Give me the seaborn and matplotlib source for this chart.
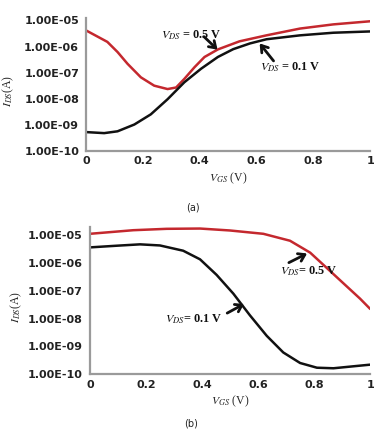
import matplotlib
matplotlib.use("Agg")
import matplotlib.pyplot as plt
import pandas as pd
import numpy as np
import seaborn as sns

# panel (a): I_DS vs V_GS, log10 values
vgs_a = [0, 0.075, 0.111, 0.146, 0.193, 0.24, 0.287, 0.317, 0.346, 0.382, 0.417, 0.464, 0.54, 0.635, 0.753, 0.87, 1.0]
log_red_a = [-5.38, -5.82, -6.21, -6.66, -7.18, -7.5, -7.63, -7.57, -7.24, -6.79, -6.4, -6.11, -5.8, -5.57, -5.31, -5.15, -5.03]
vgs_a_blk = [0, 0.064, 0.111, 0.17, 0.228, 0.287, 0.346, 0.405, 0.464, 0.518, 0.577, 0.635, 0.753, 0.87, 1.0]
log_blk_a = [-9.28, -9.32, -9.25, -8.99, -8.6, -8.02, -7.37, -6.85, -6.4, -6.1, -5.88, -5.72, -5.57, -5.47, -5.42]

# panel (b)
vgs_b = [0, 0.155, 0.274, 0.393, 0.5, 0.619, 0.714, 0.786, 0.845, 0.905, 0.964, 1.0]
log_red_b = [-4.94, -4.81, -4.76, -4.75, -4.82, -4.94, -5.19, -5.62, -6.17, -6.73, -7.28, -7.65]
vgs_b_blk = [0, 0.095, 0.179, 0.25, 0.333, 0.393, 0.452, 0.512, 0.571, 0.631, 0.69, 0.75, 0.81, 0.869, 0.929, 1.0]
log_blk_b = [-5.43, -5.37, -5.32, -5.36, -5.55, -5.86, -6.42, -7.1, -7.88, -8.62, -9.22, -9.6, -9.77, -9.79, -9.73, -9.66]

yticks = [1e-5, 1e-6, 1e-7, 1e-8, 1e-9, 1e-10]
ytick_labels = ["1.00E-05", "1.00E-06", "1.00E-07", "1.00E-08", "1.00E-09", "1.00E-10"]
xticks = [0, 0.2, 0.4, 0.6, 0.8, 1]
xtick_labels = ["0", "0.2", "0.4", "0.6", "0.8", "1"]

sns.set_style("white")
plt.rcParams['mathtext.fontset'] = 'stix'
plt.rcParams['font.family'] = ['DejaVu Sans']

RED = "#c4282e"
BLK = "#111111"

fig = plt.figure(figsize=(3.84, 4.36), dpi=100)
ax_a = fig.add_axes([0.224, 0.654, 0.740, 0.305])
ax_b = fig.add_axes([0.234, 0.142, 0.730, 0.337])


def style_axis(ax, ytop, ylab_x, ylab_y):
    ax.set_yscale("log")
    ax.set_xlim(0, 1)
    ax.set_ylim(1e-10, ytop)
    ax.set_yticks(yticks)
    ax.set_yticklabels(ytick_labels)
    ax.minorticks_off()
    ax.set_xticks(xticks)
    ax.set_xticklabels(xtick_labels)
    ax.tick_params(length=0, labelsize=8)
    ax.tick_params(axis="y", pad=5)
    ax.tick_params(axis="x", pad=4)
    for lab in ax.get_xticklabels() + ax.get_yticklabels():
        lab.set_fontweight("bold")
        lab.set_color("#222222")
    for s in ["top", "right"]:
        ax.spines[s].set_visible(False)
    for s in ["left", "bottom"]:
        ax.spines[s].set_color("#9a9a9a")
        ax.spines[s].set_linewidth(1.6)
    ax.set_xlabel(r"$V_{GS}$" + " (V)", family="Liberation Serif", fontsize=8.5, labelpad=3)
    ax.set_ylabel(r"$I_{DS}$" + "(A)", family="Liberation Serif", fontsize=8.5)
    ax.yaxis.set_label_coords(ylab_x, ylab_y)


def annotate(ax, text, head, tail, txt):
    ax.annotate("", xy=(head[0], 10 ** head[1]), xytext=(tail[0], 10 ** tail[1]),
                arrowprops=dict(arrowstyle="->,head_length=0.45,head_width=0.3",
                                color=BLK, lw=2.0, shrinkA=0, shrinkB=0))
    ax.text(txt[0], 10 ** txt[1], text, ha="center", va="center",
            family="Liberation Serif", fontsize=8.8, fontweight="bold", color=BLK)


df_a_red = pd.DataFrame({"vgs": vgs_a, "ids": np.power(10.0, log_red_a)})
df_a_blk = pd.DataFrame({"vgs": vgs_a_blk, "ids": np.power(10.0, log_blk_a)})
sns.lineplot(data=df_a_red, x="vgs", y="ids", color=RED, lw=1.8, ax=ax_a)
sns.lineplot(data=df_a_blk, x="vgs", y="ids", color=BLK, lw=1.8, ax=ax_a)
style_axis(ax_a, 10 ** -4.9, -0.245, 0.45)
annotate(ax_a, r"$V_{DS}$" + " = 0.5 V", (0.463, -6.12), (0.415, -5.62), (0.37, -5.56))
annotate(ax_a, r"$V_{DS}$" + " = 0.1 V", (0.611, -5.88), (0.66, -6.55), (0.72, -6.8))

df_b_red = pd.DataFrame({"vgs": vgs_b, "ids": np.power(10.0, log_red_b)})
df_b_blk = pd.DataFrame({"vgs": vgs_b_blk, "ids": np.power(10.0, log_blk_b)})
sns.lineplot(data=df_b_red, x="vgs", y="ids", color=RED, lw=1.8, ax=ax_b)
sns.lineplot(data=df_b_blk, x="vgs", y="ids", color=BLK, lw=1.8, ax=ax_b)
style_axis(ax_b, 10 ** -4.7, -0.235, 0.456)
annotate(ax_b, r"$V_{DS}$" + "= 0.5 V", (0.775, -5.65), (0.71, -5.98), (0.78, -6.3))
annotate(ax_b, r"$V_{DS}$" + "= 0.1 V", (0.55, -7.47), (0.49, -7.8), (0.37, -8.02))

fig.text(0.503, 0.523, "(a)", ha="center", va="center", fontsize=7, color="#222222")
fig.text(0.497, 0.028, "(b)", ha="center", va="center", fontsize=7, color="#222222")

fig.savefig("out.png", dpi=100)
